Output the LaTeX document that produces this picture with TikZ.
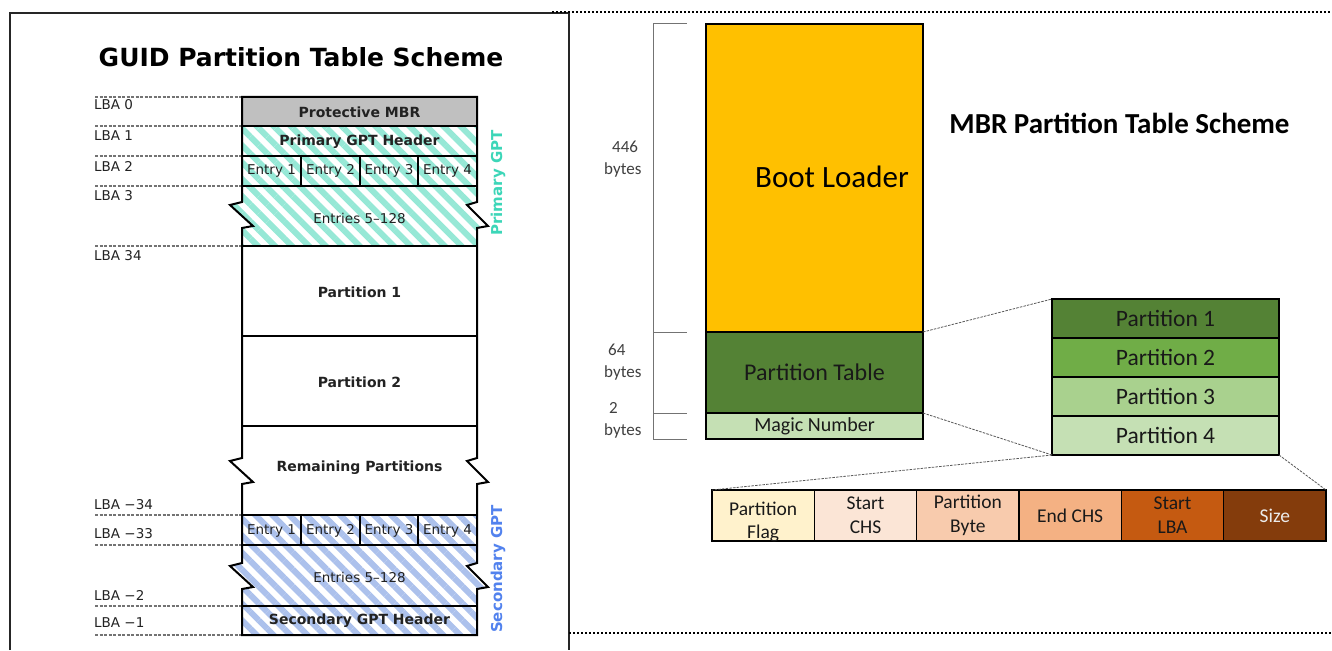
\documentclass[tikz,border=0pt]{standalone}
\usepackage{fontspec}
\setmainfont{DejaVu Sans}
\newfontfamily\mbrfont{Carlito}
\usetikzlibrary{patterns.meta}
\definecolor{tealstripe}{RGB}{150,232,214}
\definecolor{tealtext}{RGB}{60,214,184}
\definecolor{bluestripe}{RGB}{172,193,236}
\definecolor{bluetext}{RGB}{82,130,238}
\definecolor{mbrgray}{RGB}{192,192,192}
\definecolor{bootorange}{RGB}{255,192,0}
\definecolor{greenA}{RGB}{84,130,53}
\definecolor{greenB}{RGB}{112,173,71}
\definecolor{greenC}{RGB}{169,209,142}
\definecolor{greenD}{RGB}{197,224,180}
\definecolor{fieldA}{RGB}{255,242,204}
\definecolor{fieldB}{RGB}{251,229,214}
\definecolor{fieldC}{RGB}{248,203,173}
\definecolor{fieldD}{RGB}{244,177,131}
\definecolor{fieldE}{RGB}{197,90,17}
\definecolor{fieldF}{RGB}{132,60,12}
\definecolor{txtdark}{RGB}{34,34,34}
\tikzset{
  frameline/.style={line width=1.5pt, draw=black!85},
  dotline/.style={line width=2pt, draw=black, dash pattern=on 2pt off 2pt},
  lbaline/.style={line width=1.2pt, draw=black!55, dash pattern=on 3pt off 1.5pt},
  lbalabel/.style={anchor=west, inner sep=0pt, text=txtdark, font=\fontsize{13.5}{15}\selectfont},
  gptbold/.style={inner sep=0pt, text=txtdark, font=\bfseries\fontsize{14}{16}\selectfont},
  gptreg/.style={inner sep=0pt, text=txtdark, font=\fontsize{13.5}{15}\selectfont},
  gptside/.style={inner sep=0pt, rotate=90, font=\bfseries\fontsize{15}{17}\selectfont},
  mbrbox/.style={draw=black, line width=1.8pt, inner sep=0pt, outer sep=0pt, minimum width=217pt, text=black!90},
  partrow/.style={draw=black, line width=1.5pt, inner sep=0pt, outer sep=0pt, minimum width=227pt, minimum height=39pt, text=black!90, font=\mbrfont\fontsize{23.5}{26}\selectfont},
  fieldbox/.style={draw=black, line width=1.5pt, inner sep=0pt, outer sep=0pt, minimum width=102.33pt, minimum height=51pt, align=center, text=black!90, font=\mbrfont\fontsize{19.5}{24}\selectfont},
  bytelabel/.style={anchor=west, align=left, inner sep=0pt, text=black!75, font=\mbrfont\fontsize{17}{22}\selectfont},
  bracketline/.style={line width=1pt, draw=black!55},
  zoomline/.style={line width=0.8pt, draw=black!65, dash pattern=on 2.5pt off 1.2pt},
}
\begin{document}
\begin{tikzpicture}[x=1pt,y=-1pt]
\useasboundingbox (0,0) rectangle (1332,650);
\fill[white] (0,0) rectangle (1332,650);

% ---------- frames ----------
\draw[frameline] (10,650) -- (10,13) -- (569,13) -- (569,650);
\draw[dotline] (552,12) -- (1332,12);
\draw[dotline] (569,633) -- (1332,633);

% ---------- GPT scheme ----------
\node[inner sep=0pt, text=black, font=\bfseries\fontsize{25}{28}\selectfont] (gpttitle) at (301,57) {GUID Partition Table Scheme};

% LBA dashed lines
\foreach \yy in {97,126,156,186,246,515,545,606,635}
  \draw[lbaline] (95,\yy) -- (242,\yy);

% fills
\fill[mbrgray] (242,97) rectangle (477,126);
\path[pattern={Lines[angle=-45,distance=12pt,line width=6pt]}, pattern color=tealstripe]
  (242,126) -- (477,126) -- (477,202) -- (467,205) -- (488,226) -- (477,228) -- (477,246)
  -- (242,246) -- (242,228) -- (253,226) -- (230,205) -- (242,202) -- cycle;
\path[pattern={Lines[angle=-45,distance=12pt,line width=6pt]}, pattern color=bluestripe]
  (242,515) -- (477,515) -- (477,563) -- (467,566) -- (488,587) -- (477,589) -- (477,635)
  -- (242,635) -- (242,589) -- (253,587) -- (230,566) -- (242,563) -- cycle;

% inner separators
\foreach \yy in {126,156,186,246,336,426,515,545,606}
  \draw[line width=1.2pt] (242,\yy) -- (477,\yy);
\foreach \xx in {301,360,418} {
  \draw[line width=1.2pt] (\xx,156) -- (\xx,186);
  \draw[line width=1.2pt] (\xx,515) -- (\xx,545);
}

% outline with breaks
\draw[line width=2pt, line join=miter]
  (242,97) -- (477,97) -- (477,202) -- (467,205) -- (488,226) -- (477,228)
  -- (477,458) -- (467,461) -- (488,482) -- (477,484)
  -- (477,563) -- (467,566) -- (488,587) -- (477,589)
  -- (477,635) -- (242,635)
  -- (242,589) -- (253,587) -- (230,566) -- (242,563)
  -- (242,484) -- (253,482) -- (230,461) -- (242,458)
  -- (242,228) -- (253,226) -- (230,205) -- (242,202) -- cycle;

% LBA labels
\node[lbalabel] (lba0)  at (94,105) {LBA 0};
\node[lbalabel] (lba1)  at (94,136) {LBA 1};
\node[lbalabel] (lba2)  at (94,166) {LBA 2};
\node[lbalabel] (lba3)  at (94,196) {LBA 3};
\node[lbalabel] (lba34) at (94,256) {LBA 34};
\node[lbalabel] (lbam34) at (94,505) {LBA −34};
\node[lbalabel] (lbam33) at (94,534) {LBA −33};
\node[lbalabel] (lbam2) at (94,595) {LBA −2};
\node[lbalabel] (lbam1) at (94,623) {LBA −1};

% GPT texts
\node[gptbold] (pmbr) at (359.5,112) {Protective MBR};
\node[gptbold] (pgpth) at (359.5,142) {Primary GPT Header};
\node[gptreg] (pe1) at (271.5,171) {Entry 1};
\node[gptreg] (pe2) at (330.5,171) {Entry 2};
\node[gptreg] (pe3) at (389,171) {Entry 3};
\node[gptreg] (pe4) at (447.5,171) {Entry 4};
\node[gptreg] (pent) at (359.5,218) {Entries 5–128};
\node[gptbold] (part1) at (359.5,292) {Partition 1};
\node[gptbold] (part2) at (359.5,382) {Partition 2};
\node[gptbold] (remp) at (359.5,468) {Remaining Partitions};
\node[gptreg] (se1) at (271.5,531) {Entry 1};
\node[gptreg] (se2) at (330.5,531) {Entry 2};
\node[gptreg] (se3) at (389,531) {Entry 3};
\node[gptreg] (se4) at (447.5,531) {Entry 4};
\node[gptreg] (sent) at (359.5,577) {Entries 5–128};
\node[gptbold] (sgpth) at (359.5,621) {Secondary GPT Header};
\node[gptside, text=tealtext] (pgpt) at (498,183) {Primary GPT};
\node[gptside, text=bluetext] (sgpt) at (498,569) {Secondary GPT};

% ---------- MBR scheme ----------
\node[inner sep=0pt, text=black, font=\mbrfont\bfseries\fontsize{29}{32}\selectfont] (mbrtitle) at (1119.5,123) {MBR Partition Table Scheme};

\node[mbrbox, fill=bootorange, minimum height=308pt] (boot) at (814.5,178) {};
\node[inner sep=0pt, text=black, font=\mbrfont\fontsize{31}{34}\selectfont] (bootlabel) at (832,177) {Boot Loader};
\node[mbrbox, fill=greenA, minimum height=81pt, font=\mbrfont\fontsize{24}{28}\selectfont] (ptable) at (814.5,372.5) {Partition Table};
\node[mbrbox, fill=greenD, minimum height=26pt, font=\mbrfont\fontsize{20}{22}\selectfont] (magic) at (814.5,426) {Magic Number};

% byte bracket
\coordinate (bk0) at (653,24);
\coordinate (bk1) at (653,332);
\coordinate (bk2) at (653,413);
\coordinate (bk3) at (653,439);
\draw[bracketline] (bk0) -- (bk3);
\foreach \c in {bk0,bk1,bk2,bk3}
  \draw[bracketline] (\c) -- ++(34,0);
\node[bytelabel] (b446) at (604,159) {\hspace*{8pt}446\\bytes};
\node[bytelabel] (b64) at (604,362) {\hspace*{4pt}64\\bytes};
\node[bytelabel] (b2) at (604,420) {\hspace*{5pt}2\\bytes};

% partition entries
\node[partrow, fill=greenA] (p1) at (1165.5,318.5) {Partition 1};
\node[partrow, fill=greenB] (p2) at (1165.5,357.5) {Partition 2};
\node[partrow, fill=greenC] (p3) at (1165.5,396.5) {Partition 3};
\node[partrow, fill=greenD] (p4) at (1165.5,435.5) {Partition 4};

% fields
\node[fieldbox, fill=fieldA] (f1) at (763.17,515.5) {};
\node[inner sep=0pt, align=center, text=black!90, font=\mbrfont\fontsize{19.5}{23}\selectfont] (f1t) at (763.17,521.5) {Partition\\Flag};
\node[fieldbox, fill=fieldB] (f2) at (865.5,515.5) {Start\\CHS};
\node[fieldbox, fill=fieldC] (f3) at (967.83,515.5) {Partition\\Byte};
\node[fieldbox, fill=fieldD] (f4) at (1070.17,515.5) {End CHS};
\node[fieldbox, fill=fieldE] (f5) at (1172.5,515.5) {Start\\LBA};
\node[fieldbox, fill=fieldF, text=white!92!black] (f6) at (1274.83,515.5) {Size};

% zoom connectors
\draw[zoomline] (ptable.north east) -- (p1.north west);
\draw[zoomline] (ptable.south east) -- (p4.south west);
\draw[zoomline] (p4.south west) -- (f1.north west);
\draw[zoomline] (p4.south east) -- (f6.north east);
\end{tikzpicture}
\end{document}
